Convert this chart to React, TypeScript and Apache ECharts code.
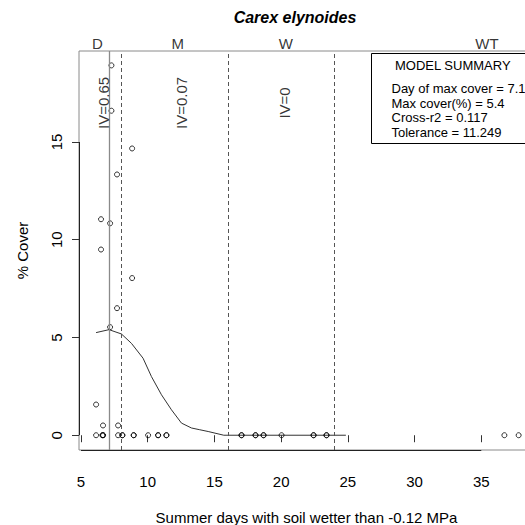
import React, { useEffect, useRef } from "react";
import * as echarts from "echarts";

// Observed plots: summer wet days vs. percent cover
const plotDays = [
  7.28, 7.28, 8.83, 7.7, 6.5, 7.18, 6.5, 8.83, 7.7, 7.18, 6.13, 6.65, 7.78,
  6.13, 6.6, 6.65, 6.65, 7.78, 8.1, 8.1, 8.95, 8.95, 10.03, 10.78, 10.78, 11.4, 11.4,
  17.03, 17.03, 18.08, 18.08, 18.68, 18.68, 20.03, 22.43, 22.43, 23.4, 23.4, 36.73, 37.8,
];
const plotCover = [
  18.92, 16.6, 14.67, 13.34, 11.05, 10.84, 9.5, 8.04, 6.5, 5.53, 1.57, 0.5, 0.5,
  0, 0, 0, 0, 0, 0, 0, 0, 0, 0, 0, 0, 0, 0,
  0, 0, 0, 0, 0, 0, 0, 0, 0, 0, 0, 0, 0,
];

// Fitted response curve
const fitDays = [6.13, 7.1, 8.03, 8.78, 9.65, 10.28, 11.03, 11.78, 12.53, 13.28, 13.9, 14.53, 15.7, 24.85];
const fitCover = [5.25, 5.4, 5.18, 4.7, 3.94, 3.0, 2.07, 1.3, 0.62, 0.37, 0.28, 0.19, 0.0, 0.0];

// Hydrologic zones
const zoneNames = ["D", "M", "W", "WT"];
const zoneLabelDays = [6.23, 12.25, 20.35, 35.42];
const zoneBounds = [8, 16, 24];
const ivLabels = ["IV=0.65", "IV=0.07", "IV=0"];
const ivLabelDays = [6.71, 12.53, 20.28];
const ivLabelCover = 17;
const maxCoverDay = 7.1;

// Axis ticks
const xTicks = [5, 10, 15, 20, 25, 30, 35];
const yTicks = [0, 5, 10, 15];
const xMin = 4.85;
const xMax = 38.95;
const yMin = -0.756;
const yMax = 19.656;

const titleText = "Carex elynoides";
const xName = "Summer days with soil wetter than -0.12 MPa";
const yName = "% Cover";
const summaryTitle = "MODEL SUMMARY";
const summaryLines = [
  "Day of max cover = 7.1",
  "Max cover(%) = 5.4",
  "Cross-r2 = 0.117",
  "Tolerance = 11.249",
];

const FONT = '"Liberation Sans", Arial, Helvetica, sans-serif';

function buildOption() {
  const dashed = { color: "#555", type: [4, 3] as any, width: 1 };
  const markData: any[] = [
    { xAxis: maxCoverDay, lineStyle: { color: "#8a8a8a", type: "solid", width: 1.3 } },
    ...zoneBounds.map((b) => ({ xAxis: b, lineStyle: dashed })),
    [
      { coord: [xTicks[0], yMin], lineStyle: { color: "#222", type: "solid", width: 1 } },
      { coord: [xTicks[xTicks.length - 1], yMin] },
    ],
    [
      { coord: [xMin, yTicks[0]], lineStyle: { color: "#222", type: "solid", width: 1 } },
      { coord: [xMin, yTicks[yTicks.length - 1]] },
    ],
  ];

  const summaryY = [88.5, 103, 117.5, 132];
  const boxLeft = 371.5;
  const boxTop = 53.5;
  const boxBottom = 143.5;
  const boxRight = 620;

  return {
    animation: false,
    backgroundColor: "#fff",
    textStyle: { fontFamily: FONT },
    grid: {
      left: 79,
      top: 51,
      right: -9,
      bottom: 75,
      show: true,
      borderColor: "#8a8a8a",
      borderWidth: 1,
      containLabel: false,
      outerBoundsMode: "none",
    },
    xAxis: {
      type: "value",
      min: xMin,
      max: xMax,
      axisLine: { show: false },
      splitLine: { show: false },
      axisTick: {
        show: true,
        length: 7,
        lineStyle: { color: "#333" },
        customValues: xTicks,
      },
      axisLabel: {
        show: true,
        margin: 24,
        fontSize: 15,
        color: "#000",
        fontFamily: FONT,
        customValues: xTicks,
      },
    },
    yAxis: {
      type: "value",
      min: yMin,
      max: yMax,
      axisLine: { show: false },
      splitLine: { show: false },
      axisTick: {
        show: true,
        length: 7,
        lineStyle: { color: "#333" },
        customValues: yTicks,
      },
      axisLabel: {
        show: true,
        rotate: 90,
        margin: 15,
        fontSize: 15,
        color: "#000",
        fontFamily: FONT,
        customValues: yTicks,
      },
    },
    graphic: [
      {
        type: "text",
        x: 295,
        y: 17,
        style: {
          text: titleText,
          fontSize: 16,
          fontWeight: "bold",
          fontStyle: "italic",
          fontFamily: FONT,
          fill: "#000",
          align: "center",
          verticalAlign: "middle",
        },
      },
      {
        type: "text",
        x: 306.5,
        y: 517,
        style: {
          text: xName,
          fontSize: 15,
          fontFamily: FONT,
          fill: "#000",
          align: "center",
          verticalAlign: "middle",
        },
      },
      {
        type: "text",
        x: 22,
        y: 250.5,
        rotation: Math.PI / 2,
        style: {
          text: yName,
          fontSize: 15,
          fontFamily: FONT,
          fill: "#000",
          align: "center",
          verticalAlign: "middle",
        },
      },
      // summary panel: white fill, framed on three sides (it runs past the right edge)
      {
        type: "rect",
        shape: { x: boxLeft, y: boxTop, width: boxRight - boxLeft, height: boxBottom - boxTop },
        style: { fill: "#fff", stroke: null, lineWidth: 0 },
        z: 10,
      },
      {
        type: "polyline",
        shape: {
          points: [
            [boxRight, boxTop],
            [boxLeft, boxTop],
            [boxLeft, boxBottom],
            [boxRight, boxBottom],
          ],
        },
        style: { fill: null, stroke: "#000", lineWidth: 1 },
        z: 10,
      },
      {
        type: "text",
        x: 395,
        y: 65,
        z: 11,
        style: {
          text: summaryTitle,
          fontSize: 13,
          fontFamily: FONT,
          fill: "#000",
          align: "left",
          verticalAlign: "middle",
        },
      },
      ...summaryLines.map((t, i) => ({
        type: "text",
        x: 391.5,
        y: summaryY[i],
        z: 11,
        style: {
          text: t,
          fontSize: 13,
          fontFamily: FONT,
          fill: "#000",
          align: "left",
          verticalAlign: "middle",
        },
      })),
    ],
    series: [
      {
        type: "line",
        data: fitDays.map((d, i) => [d, fitCover[i]]),
        showSymbol: false,
        symbol: "none",
        clip: false,
        lineStyle: { color: "#333", width: 1 },
        markLine: {
          silent: true,
          symbol: ["none", "none"],
          label: { show: false },
          animation: false,
          data: markData,
        },
        z: 3,
      },
      {
        type: "scatter",
        data: plotDays.map((d, i) => [d, plotCover[i]]),
        symbol: "circle",
        symbolSize: 5,
        itemStyle: { color: "rgba(0,0,0,0)", borderColor: "#000", borderWidth: 1 },
        z: 4,
      },
      {
        type: "scatter",
        data: zoneLabelDays.map((d, i) => ({ value: [d, yMax], name: zoneNames[i] })),
        symbolSize: 0,
        clip: false,
        silent: true,
        label: {
          show: true,
          position: "top",
          distance: 0,
          formatter: (p: any) => p.name,
          fontSize: 15,
          fontFamily: FONT,
          color: "#000",
        },
        z: 5,
      },
      {
        type: "scatter",
        data: ivLabelDays.map((d, i) => ({ value: [d, ivLabelCover], name: ivLabels[i] })),
        symbolSize: 0,
        silent: true,
        label: {
          show: true,
          position: "inside",
          rotate: 90,
          formatter: (p: any) => p.name,
          fontSize: 15,
          fontFamily: FONT,
          color: "#000",
        },
        z: 5,
      },
    ],
  };
}

export default function App() {
  const ref = useRef<HTMLDivElement>(null);
  useEffect(() => {
    if (!ref.current) return;
    const chart = echarts.init(ref.current, null, { renderer: "svg" });
    chart.setOption(buildOption() as any);
    return () => chart.dispose();
  }, []);
  return (
    <div
      ref={ref}
      style={{ position: "fixed", left: 0, top: 0, width: 525, height: 525, background: "#fff", overflow: "hidden" }}
    />
  );
}
